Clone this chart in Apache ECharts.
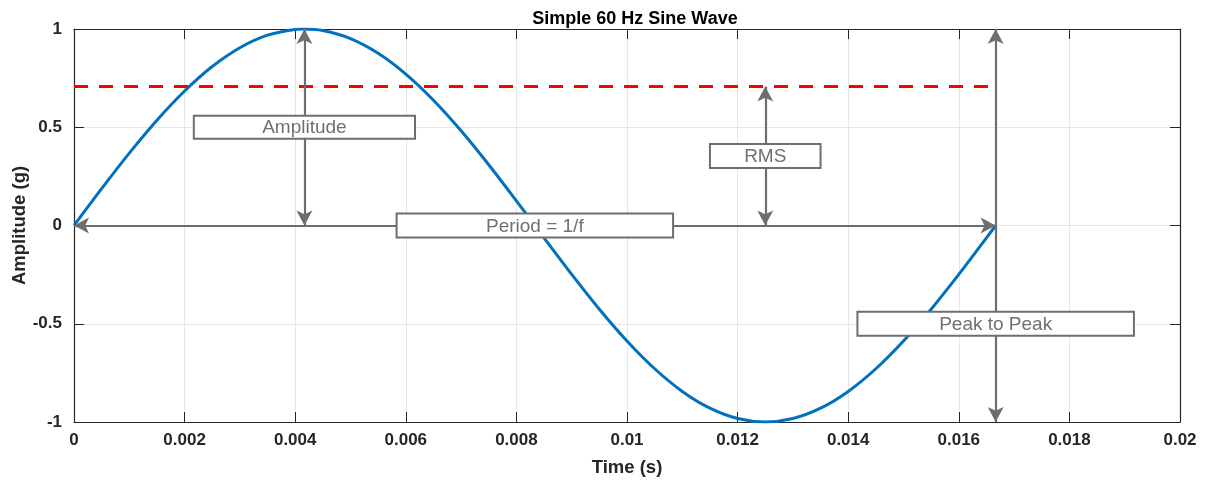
<!DOCTYPE html>
<html>
<head>
<meta charset="utf-8">
<script src="https://cdn.jsdelivr.net/npm/echarts@6/dist/echarts.min.js"></script>
<style>html,body{margin:0;padding:0;background:#fff}#c{width:1208px;height:481px}</style>
</head>
<body>
<div id="c"></div>
<script>
// Sine wave samples (time s, amplitude g)
const timeValues = [0,0.0005,0.001,0.0015,0.002,0.0025,0.003,0.0035,0.004,0.0041667,0.0045,0.005,0.0055,0.006,0.0065,0.007,0.0075,0.008,0.0083333,0.0085,0.009,0.0095,0.01,0.0105,0.011,0.0115,0.012,0.0125,0.013,0.0135,0.014,0.0145,0.015,0.0155,0.016,0.0165,0.0166667];
const ampValues = [0,0.1874,0.3681,0.5358,0.6845,0.8090,0.9048,0.9686,0.9980,1.0,0.9921,0.9511,0.8763,0.7705,0.6374,0.4818,0.3090,0.1253,0,-0.0628,-0.2487,-0.4258,-0.5878,-0.7290,-0.8443,-0.9298,-0.9823,-1.0,-0.9823,-0.9298,-0.8443,-0.7290,-0.5878,-0.4258,-0.2487,-0.0628,0];
// RMS level line
const rmsLine = [[0,0.7071],[0.0166667,0.7071]];
// Annotation arrows: [x1,y1,x2,y2]
const arrows = [
  [0,0,0.0166667,0],
  [0.0041667,0,0.0041667,1],
  [0.0125,0,0.0125,0.7071],
  [0.0166667,-1,0.0166667,1]
];
// Annotation boxes: [xCenter, yCenter, halfWidth, halfHeight, text]
const boxes = [
  [0.0041667,0.5,0.002,0.059,'Amplitude'],
  [0.0125,0.354,0.001,0.061,'RMS'],
  [0.0083333,0.0,0.0025,0.061,'Period = 1/f'],
  [0.0166667,-0.5,0.0025,0.061,'Peak to Peak']
];
const xTicks = ['0','0.002','0.004','0.006','0.008','0.01','0.012','0.014','0.016','0.018','0.02'];
const yTicks = ['-1','-0.5','0','0.5','1'];

const FONT = 'Liberation Sans, Arial, Helvetica, sans-serif';
const AX = '#262626';
const GRAY = '#6e6e6e';

const chart = echarts.init(document.getElementById('c'));
const tickLbl = {color: AX, fontFamily: FONT, fontWeight: 'bold', fontSize: 17};
function xAxisCfg(top){
  return {
    type:'value', min:0, max:0.02, interval:0.002, position: top?'top':'bottom',
    axisLine:{show:true, onZero:false, lineStyle:{color:AX, width:1.2}},
    axisTick:{show:true, inside:true, length:10, lineStyle:{color:AX, width:1}},
    splitLine:{show:!top, lineStyle:{color:'#e6e6e6', width:1}},
    axisLabel: top?{show:false}:Object.assign({margin:10, formatter:(v)=>{const i=Math.round(v/0.002);return xTicks[i];}}, tickLbl),
    name: top?'':'Time (s)', nameLocation:'middle', nameGap:36,
    nameTextStyle:{color:AX, fontFamily:FONT, fontWeight:'bold', fontSize:18.5}
  };
}
function yAxisCfg(right){
  return {
    type:'value', min:-1, max:1, interval:0.5, position: right?'right':'left',
    axisLine:{show:true, onZero:false, lineStyle:{color:AX, width:1.2}},
    axisTick:{show:true, inside:true, length:10, lineStyle:{color:AX, width:1}},
    splitLine:{show:!right, lineStyle:{color:'#e6e6e6', width:1}},
    axisLabel: right?{show:false}:Object.assign({margin:12, formatter:(v)=>{const i=Math.round((v+1)/0.5);return yTicks[i];}}, tickLbl),
    name: right?'':'Amplitude (g)', nameLocation:'middle', nameGap:45, nameMoveOverlap:false,
    nameTextStyle:{color:AX, fontFamily:FONT, fontWeight:'bold', fontSize:18.5}
  };
}

const option = {
  animation:false,
  backgroundColor:'#fff',
  title:{text:'Simple 60 Hz Sine Wave', left:630, textAlign:'center', top:5,
    textStyle:{color:'#000', fontFamily:FONT, fontWeight:'bold', fontSize:18}},
  grid:{left:74, right:28, top:29, bottom:59, containLabel:false, outerBoundsMode:'none'},
  xAxis:[xAxisCfg(false), xAxisCfg(true)],
  yAxis:[yAxisCfg(false), yAxisCfg(true)],
  series:[
    {type:'line', name:'sine', data: timeValues.map((t,i)=>[t, ampValues[i]]), smooth:0.3, showSymbol:false,
      lineStyle:{color:'#0072BD', width:3}, z:2},
    {type:'line', name:'rms', data: rmsLine, showSymbol:false,
      lineStyle:{color:'#FF0000', width:3, type:[14,11]}, z:3},
    {type:'line', name:'arrows', data:[], z:4,
      markLine:{silent:true, symbol:['arrow','arrow'], symbolSize:[12,15], precision:10,
        label:{show:false},
        lineStyle:{color:GRAY, width:2.2, type:'solid'},
        emphasis:{disabled:true},
        data: arrows.map(a=>[{coord:[a[0],a[1]]},{coord:[a[2],a[3]]}])}},
    {type:'custom', name:'boxes', z:10, data: boxes,
      renderItem:(params, api)=>{
        const d = boxes[params.dataIndex];
        const p1 = api.coord([d[0]-d[2], d[1]+d[3]]);
        const p2 = api.coord([d[0]+d[2], d[1]-d[3]]);
        return {type:'group', children:[
          {type:'rect', shape:{x:p1[0], y:p1[1], width:p2[0]-p1[0], height:p2[1]-p1[1]},
            style:{fill:'#fff', stroke:GRAY, lineWidth:2}},
          {type:'text', style:{text:d[4], x:(p1[0]+p2[0])/2, y:(p1[1]+p2[1])/2+1, align:'center', verticalAlign:'middle',
            fill:'#707070', font:'19px '+FONT}}
        ]};
      }}
  ]
};
chart.setOption(option);
</script>
</body>
</html>
